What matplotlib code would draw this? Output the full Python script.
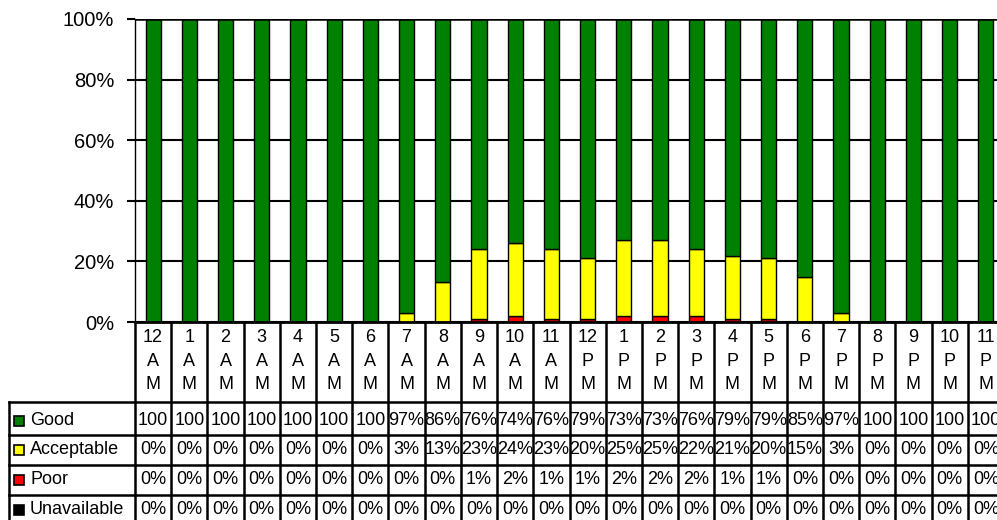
import matplotlib
matplotlib.use("Agg")
import matplotlib.pyplot as plt
from matplotlib.patches import Rectangle
from matplotlib.transforms import blended_transform_factory
import numpy as np

plt.rcParams['font.family'] = ['Liberation Sans', 'DejaVu Sans']

hours = ['12\nA\nM', '1\nA\nM', '2\nA\nM', '3\nA\nM', '4\nA\nM', '5\nA\nM',
         '6\nA\nM', '7\nA\nM', '8\nA\nM', '9\nA\nM', '10\nA\nM', '11\nA\nM',
         '12\nP\nM', '1\nP\nM', '2\nP\nM', '3\nP\nM', '4\nP\nM', '5\nP\nM',
         '6\nP\nM', '7\nP\nM', '8\nP\nM', '9\nP\nM', '10\nP\nM', '11\nP\nM']
good = [100, 100, 100, 100, 100, 100, 100, 97, 86, 76, 74, 76,
        79, 73, 73, 76, 79, 79, 85, 97, 100, 100, 100, 100]
acceptable = [0, 0, 0, 0, 0, 0, 0, 3, 13, 23, 24, 23,
              20, 25, 25, 22, 21, 20, 15, 3, 0, 0, 0, 0]
poor = [0, 0, 0, 0, 0, 0, 0, 0, 0, 1, 2, 1,
        1, 2, 2, 2, 1, 1, 0, 0, 0, 0, 0, 0]
unavailable = [0] * 24

series = [('Good', good, '#008000'),
          ('Acceptable', acceptable, '#FFFF00'),
          ('Poor', poor, '#FF0000'),
          ('Unavailable', unavailable, '#000000')]

W, H = 997, 520
fig = plt.figure(figsize=(W / 100, H / 100), dpi=100)
# plot area in pixels: left 135, right 1004 (runs past the edge), top 19, bottom 322
px_l, px_r, px_t, px_b = 135, 1004, 19, 322
ax = fig.add_axes([px_l / W, 1 - px_b / H, (px_r - px_l) / W, (px_b - px_t) / H])

n = len(hours)
x = np.arange(n)
# 100% stacked: bottom up -> unavailable, poor, acceptable, good
stack = [series[3], series[2], series[1], series[0]]
totals = np.sum([np.array(s[1], float) for s in series], axis=0)
bottom = np.zeros(n)
for name, vals, col in stack:
    h = np.array(vals, float) / totals * 100
    ax.bar(x, h, 0.42, bottom=bottom, color=col, edgecolor='black',
           linewidth=1.0, zorder=3)
    bottom += h

ax.set_xlim(-0.5, n - 0.5)
ax.set_ylim(0, 100)
ax.set_yticks(range(0, 101, 20))
ax.set_yticklabels([f'{v}%' for v in range(0, 101, 20)], fontsize=14.5)
ax.tick_params(axis='y', length=6, width=1.5, pad=9, direction='out')
ax.set_xticks([])
ax.yaxis.grid(True, color='black', linewidth=1.5, zorder=1)
ax.set_axisbelow(True)
for s in ['top', 'right', 'bottom']:
    ax.spines[s].set_visible(False)
ax.spines['left'].set_linewidth(1.0)
ax.axhline(100, color='black', linewidth=1.8, zorder=4)
ax.axhline(0, color='black', linewidth=2.0, zorder=4, clip_on=False)


def fy(py):
    return 1 - py / H


tr = blended_transform_factory(ax.transData, fig.transFigure)
lw = 1.8

# category header row
head_top, head_bot = 322, 402
rows = [402, 435, 465, 495, 530]
for i in range(n + 1):
    xb = i - 0.5
    fig.add_artist(plt.Line2D([xb, xb], [fy(head_top), fy(rows[-1])],
                              transform=tr, color='black', lw=lw))
for i, lab in enumerate(hours):
    fig.text(i, fy(329), lab, transform=tr, ha='center', va='top',
             fontsize=13, linespacing=1.5)

# data table rows
for ry in rows[:-1]:
    fig.add_artist(plt.Line2D([9 / W, 1.01], [fy(ry), fy(ry)],
                              transform=fig.transFigure, color='black', lw=lw))
fig.add_artist(plt.Line2D([9 / W, 9 / W], [fy(rows[0]), fy(rows[-1])],
                          transform=fig.transFigure, color='black', lw=lw))

for r, (name, vals, col) in enumerate(series):
    cy = (rows[r] + rows[r + 1]) / 2 + (2 if r == 0 else 0)
    if r == 3:
        cy = 510
    fig.add_artist(Rectangle((14 / W, fy(cy + 5)), 10 / W, 10 / H,
                             transform=fig.transFigure, facecolor=col,
                             edgecolor='black', linewidth=1.2))
    fig.text(30 / W, fy(cy), name, transform=fig.transFigure, ha='left',
             va='center', fontsize=13)
    for i, v in enumerate(vals):
        txt = '100' if v == 100 else f'{v}%'
        fig.text(i, fy(cy), txt, transform=tr, ha='center', va='center',
                 fontsize=13)

fig.savefig('out.png', dpi=100)
